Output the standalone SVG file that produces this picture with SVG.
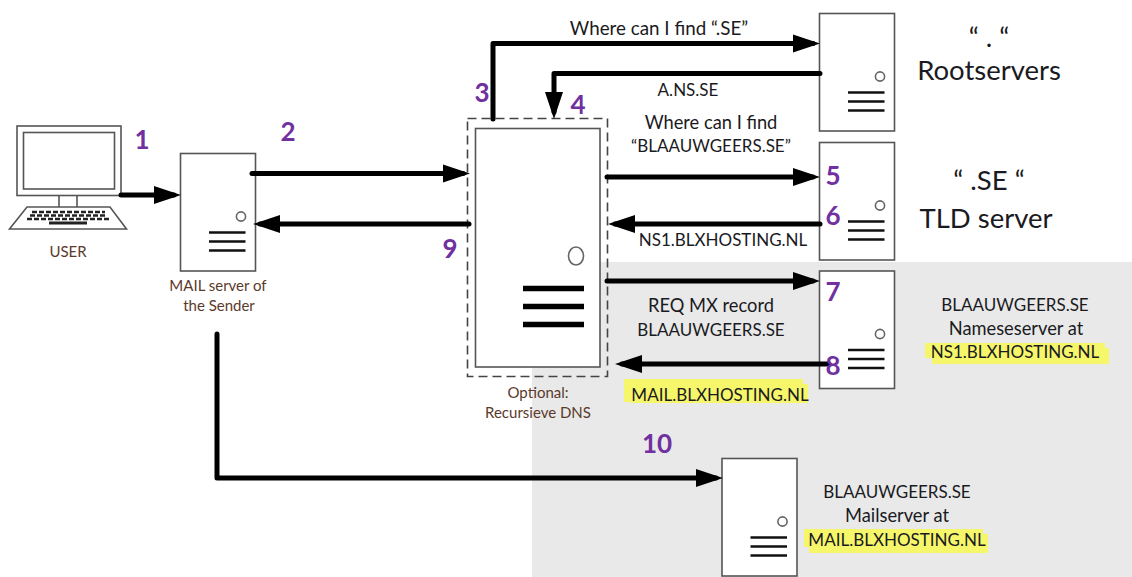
<svg xmlns="http://www.w3.org/2000/svg" width="1132" height="577" viewBox="0 0 1132 577">
<style>
text{font-family:Lato,"Open Sans","Liberation Sans",sans-serif;text-anchor:middle}
.l{font-size:17px;fill:#1a1a22}
.w{font-size:18.3px;fill:#1a1a22}
.s{font-size:15px;fill:#5a3a2a}
.b{font-size:27.500px;fill:#1a1a22}
.n{font-size:26px;font-weight:700;fill:#7030a0}
.box{fill:#fff;stroke:#555;stroke-width:1.6}
.bar{stroke:#111;stroke-width:2.6;fill:none}
.dot{fill:#fff;stroke:#666;stroke-width:1.6}
.c{fill:none;stroke:#000;stroke-width:5;stroke-linecap:round;stroke-linejoin:round;marker-end:url(#a)}
.hl{fill:#f6f66a}
</style>
<defs>
<marker id="a" markerUnits="userSpaceOnUse" markerWidth="27" markerHeight="18" refX="20" refY="9" orient="auto" viewBox="0 0 27 18" overflow="visible"><path d="M0 0L27 9L0 18Z" fill="#000"/></marker>
<g id="srv">
<rect class="box" width="75" height="117.5"/>
<circle class="dot" cx="60.5" cy="63" r="4.6"/>
<path class="bar" d="M28.5 79H65M28.5 88H65M28.5 97H65"/>
</g>
</defs>
<rect width="1132" height="577" fill="#fff"/>
<rect x="532" y="262" width="600" height="315" fill="#e9e9e9"/>
<g id="highlights">
<path class="hl" d="M624 379H803V384H808V403H631V402H624Z"/>
<path class="hl" d="M925 343H1105V348H1109V364H932V358H925Z"/>
<path class="hl" d="M804 529H983V534H988V553H809V547H804Z"/>
</g>
<g id="laptop">
<rect x="17" y="126" width="104" height="69.5" fill="#fff" stroke="#555" stroke-width="1.6"/>
<rect x="23.5" y="132.5" width="91" height="56.5" fill="#fff" stroke="#555" stroke-width="1.6"/>
<path d="M59 196V207M77 196V207" stroke="#555" stroke-width="1.6"/>
<path d="M27 207H110L126.500 229H9.500Z" fill="#fff" stroke="#555" stroke-width="1.6"/>
<path d="M32 212H105M30 215.500H107M27 219H109" stroke="#222" stroke-width="2.6" stroke-dasharray="5 2"/>
<path d="M49 223H87" stroke="#222" stroke-width="3"/>
<text class="s" x="68" y="257">USER</text>
</g>
<g id="sender">
<use href="#srv" x="180.500" y="153.500"/>
<text class="s" x="218" y="291">MAIL server of</text>
<text class="s" x="219" y="311">the Sender</text>
</g>
<g id="dns">
<rect x="467.500" y="118.500" width="140" height="258" fill="none" stroke="#444" stroke-width="1.6" stroke-dasharray="9 5"/>
<rect class="box" x="475.500" y="128.500" width="124.500" height="238.500"/>
<ellipse class="dot" cx="576" cy="256" rx="7.500" ry="9"/>
<path d="M523 288.500H584M523 306.500H584M523 324.500H584" stroke="#000" stroke-width="5.500"/>
<text class="s" x="538" y="398">Optional:</text>
<text class="s" x="538" y="418">Recursieve DNS</text>
</g>
<g id="root"><use href="#srv" x="819.500" y="13.500"/>
<text class="b" x="989" y="47">“ . “</text>
<text class="b" x="989" y="80">Rootservers</text></g>
<g id="tld"><use href="#srv" x="819.500" y="142.500"/>
<text class="b" x="989" y="190">“ .SE “</text>
<text class="b" x="986" y="228">TLD server</text></g>
<g id="ns"><use href="#srv" x="819.500" y="271"/>
<text class="l" x="1015" y="311">BLAAUWGEERS.SE</text>
<text class="w" x="1016" y="335">Nameseserver at</text>
<text class="l" x="1015" y="358">NS1.BLXHOSTING.NL</text></g>
<g id="mail"><use href="#srv" x="722" y="458.500"/>
<text class="l" x="897" y="498">BLAAUWGEERS.SE</text>
<text class="w" x="897" y="522">Mailserver at</text>
<text class="l" x="897" y="546">MAIL.BLXHOSTING.NL</text></g>
<g id="connectors">
<path class="c" d="M121 195H174"/>
<path class="c" d="M252 173.500H463"/>
<path class="c" d="M469 224H260"/>
<path class="c" d="M493 119V43.500H813"/>
<path class="c" d="M820 73.500H554V112"/>
<path class="c" d="M607 177H813"/>
<path class="c" d="M820 224H615"/>
<path class="c" d="M607 281H813"/>
<path class="c" d="M829 364H622"/>
<path class="c" d="M217 334V478H716"/>
</g>
<g id="labels">
<text class="w" x="659" y="35" style="font-size:18.800px">Where can I find “.SE”</text>
<text class="l" x="688" y="96">A.NS.SE</text>
<text class="w" x="711" y="129">Where can I find</text>
<text class="l" x="711" y="152">“BLAAUWGEERS.SE”</text>
<text class="l" x="723" y="246">NS1.BLXHOSTING.NL</text>
<text class="w" x="711" y="312">REQ MX record</text>
<text class="l" x="711" y="336">BLAAUWGEERS.SE</text>
<text class="l" x="720" y="401">MAIL.BLXHOSTING.NL</text>
<text class="n" x="142" y="149">1</text>
<text class="n" x="288" y="141">2</text>
<text class="n" x="482" y="102">3</text>
<text class="n" x="578" y="114">4</text>
<text class="n" x="833" y="185">5</text>
<text class="n" x="833" y="225">6</text>
<text class="n" x="833" y="301">7</text>
<text class="n" x="833" y="375">8</text>
<text class="n" x="450" y="258">9</text>
<text class="n" x="657" y="453">10</text>
</g>
</svg>
